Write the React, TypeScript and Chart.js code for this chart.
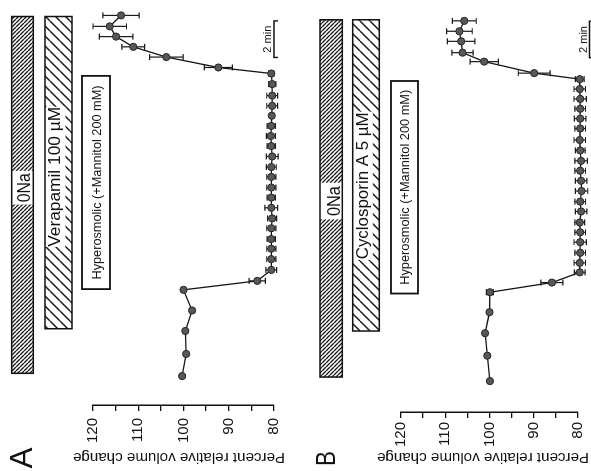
import React, { useEffect, useRef } from 'react';
import { Chart, registerables } from 'chart.js';

Chart.register(...registerables);

const FONT = '"Liberation Sans", Arial, Helvetica, sans-serif';

// ---------- data (time in min, volume in % of initial) ----------
const timeA = [0, 1.21, 2.47, 3.59, 4.72, 5.21, 5.81, 6.40, 6.97, 7.50, 8.09, 8.63, 9.21, 9.77, 10.32, 10.90, 11.44, 12.02, 12.59, 13.14, 13.69, 14.25, 14.79, 15.35, 15.98, 16.56, 16.89, 17.46, 18.02, 18.58, 19.14, 19.74];
const volumeA = [100.3, 99.4, 99.6, 98.1, 100.0, 83.7, 80.6, 80.6, 80.6, 80.6, 80.6, 80.4, 80.6, 80.6, 80.6, 80.6, 80.6, 80.4, 80.6, 80.7, 80.6, 80.5, 80.4, 80.4, 80.4, 80.6, 92.3, 103.8, 111.1, 114.9, 116.3, 113.8];
const errorA = [0, 0, 0, 0, 0, 1.8, 1.2, 1.0, 1.0, 0.9, 1.0, 1.0, 1.4, 0.9, 1.0, 1.0, 1.1, 1.3, 0.9, 1.0, 0.9, 0.4, 1.2, 1.2, 0.8, 0.6, 3.1, 3.7, 2.5, 3.7, 3.7, 4.0];

const timeB = [0, 1.39, 2.62, 3.77, 4.86, 5.39, 5.95, 6.47, 7.02, 7.60, 8.14, 8.68, 9.28, 9.82, 10.40, 10.96, 11.51, 12.05, 12.62, 13.19, 13.82, 14.36, 14.90, 15.44, 15.98, 16.52, 16.85, 17.48, 17.97, 18.59, 19.14, 19.71];
const volumeB = [99.9, 100.5, 101.0, 100.0, 99.9, 85.9, 79.6, 79.6, 79.5, 79.5, 79.5, 79.6, 79.3, 79.5, 79.2, 79.3, 79.5, 79.3, 79.5, 79.6, 79.5, 79.5, 79.5, 79.5, 79.6, 79.6, 89.9, 101.2, 106.1, 106.4, 106.8, 105.7];
const errorB = [0, 0, 0, 0, 0.8, 2.5, 1.2, 1.3, 1.2, 1.4, 1.2, 1.1, 1.3, 1.2, 1.4, 1.3, 1.2, 1.4, 1.1, 1.3, 1.2, 1.3, 1.2, 1.4, 1.3, 1.0, 3.6, 3.2, 2.4, 3.1, 2.9, 2.7];

const yTickLabels = [80, 90, 100, 110, 120];
const axisTitle = 'Percent relative volume change';

// treatment bars (time intervals, min)
const treatLabelsA = ['0Na', 'Verapamil 100 µM', 'Hyperosmolic (+Mannitol 200 mM)'];
const treatStartA = [0.15, 2.59, 4.76];
const treatEndA = [19.68, 19.68, 16.43];
const labelBoxStartA = [9.39, 7.07, 4.76];
const labelBoxEndA = [11.23, 14.74, 16.43];
const scaleBarA = [17.44, 19.44];

const treatLabelsB = ['0Na', 'Cyclosporin A 5 µM', 'Hyperosmolic (+Mannitol 200 mM)'];
const treatStartB = [0.22, 2.74, 4.79];
const treatEndB = [19.77, 19.77, 16.42];
const labelBoxStartB = [8.85, 6.63, 4.79];
const labelBoxEndB = [10.85, 14.74, 16.42];
const scaleBarB = [17.69, 19.69];

type PanelCfg = {
  letter: string;
  time: number[];
  volume: number[];
  error: number[];
  treatLabels: string[];
  treatStart: number[];
  treatEnd: number[];
  boxStart: number[];
  boxEnd: number[];
  scaleBar: number[];
  height: number;
  top: number;
  bottom: number;
  axisX: number;
  tickPad: number;
  tMin: number;
  tMax: number;
  rows: number[][];
  labelW: number[];
  labelBase: number[];
  labelSize: number[];
  letterX: number;
  letterBase: number;
  letterSize: number;
  letterW: number;
  titleCY: number;
  scaleY: number;
  scaleTextBase: number;
};

const panelA: PanelCfg = {
  letter: 'A', time: timeA, volume: volumeA, error: errorA,
  treatLabels: treatLabelsA, treatStart: treatStartA, treatEnd: treatEndA,
  boxStart: labelBoxStartA, boxEnd: labelBoxEndA, scaleBar: scaleBarA,
  height: 290, top: 93, bottom: 275, axisX: 66, tickPad: 7, tMin: -1.584, tMax: 20.31,
  rows: [[11.7, 33.3], [45, 72], [82, 110]],
  labelW: [29, 140, 194], labelBase: [30, 59.5, 100.5], labelSize: [18, 17, 12.5],
  letterX: 13, letterBase: 32, letterSize: 32, letterW: 21,
  titleCY: 179, scaleY: 274, scaleTextBase: 271,
};

const panelB: PanelCfg = {
  letter: 'B', time: timeB, volume: volumeB, error: errorB,
  treatLabels: treatLabelsB, treatStart: treatStartB, treatEnd: treatEndB,
  boxStart: labelBoxStartB, boxEnd: labelBoxEndB, scaleBar: scaleBarB,
  height: 301, top: 111, bottom: 288, axisX: 59, tickPad: 4, tMin: -1.692, tMax: 20.578,
  rows: [[30, 52.3], [62.7, 89.3], [101, 128]],
  labelW: [30, 147, 195], labelBase: [49.5, 78, 119], labelSize: [18, 17, 12.5],
  letterX: 12.5, letterBase: 45, letterSize: 28, letterW: 15,
  titleCY: 193, scaleY: 299.5, scaleTextBase: 297,
};

function fitText(ctx: CanvasRenderingContext2D, text: string, cx: number, base: number, size: number, targetW: number) {
  ctx.save();
  ctx.font = `${size}px ${FONT}`;
  const w = ctx.measureText(text).width || 1;
  ctx.translate(cx, base);
  ctx.scale(targetW / w, 1);
  ctx.textAlign = 'center';
  ctx.textBaseline = 'alphabetic';
  ctx.fillStyle = '#111';
  ctx.fillText(text, 0, 0);
  ctx.restore();
}

function makeHatch(ctx: CanvasRenderingContext2D, size: number, lw: number, back: boolean) {
  const c = document.createElement('canvas');
  c.width = size;
  c.height = size;
  const g = c.getContext('2d')!;
  g.fillStyle = '#fff';
  g.fillRect(0, 0, size, size);
  g.strokeStyle = '#1a1a1a';
  g.lineWidth = lw;
  g.beginPath();
  for (let k = -1; k <= 1; k++) {
    if (back) {
      g.moveTo(k * size, 0);
      g.lineTo(k * size + size, size);
    } else {
      g.moveTo(k * size, size);
      g.lineTo(k * size + size, 0);
    }
  }
  g.stroke();
  return ctx.createPattern(c, 'repeat')!;
}

function Panel({ cfg }: { cfg: PanelCfg }) {
  const ref = useRef<HTMLCanvasElement>(null);
  useEffect(() => {
    const canvas = ref.current!;
    const decor = {
      id: 'decor' + cfg.letter,
      beforeDatasetsDraw(chart: any) {
        const ctx: CanvasRenderingContext2D = chart.ctx;
        const xs = chart.scales.x;
        const ys = chart.scales.y;
        ctx.save();
        ctx.strokeStyle = '#1a1a1a';
        ctx.lineWidth = 1.2;
        cfg.time.forEach((t, i) => {
          const e = cfg.error[i];
          if (!e) return;
          const x = xs.getPixelForValue(t);
          const y1 = ys.getPixelForValue(cfg.volume[i] - e);
          const y2 = ys.getPixelForValue(cfg.volume[i] + e);
          ctx.beginPath();
          ctx.moveTo(x, y1);
          ctx.lineTo(x, y2);
          ctx.moveTo(x - 3, y1);
          ctx.lineTo(x + 3, y1);
          ctx.moveTo(x - 3, y2);
          ctx.lineTo(x + 3, y2);
          ctx.stroke();
        });
        ctx.restore();
      },
      afterDraw(chart: any) {
        const ctx: CanvasRenderingContext2D = chart.ctx;
        const xs = chart.scales.x;
        const dense = makeHatch(ctx, 4, 1.3, true);
        const sparse = makeHatch(ctx, 10, 1.5, false);
        ctx.save();
        cfg.treatLabels.forEach((label, i) => {
          const x1 = xs.getPixelForValue(cfg.treatStart[i]);
          const x2 = xs.getPixelForValue(cfg.treatEnd[i]);
          const [r1, r2] = cfg.rows[i];
          const b1 = xs.getPixelForValue(cfg.boxStart[i]);
          const b2 = xs.getPixelForValue(cfg.boxEnd[i]);
          if (i < 2) {
            ctx.fillStyle = i === 0 ? dense : sparse;
            ctx.fillRect(x1, r1, x2 - x1, r2 - r1);
            ctx.fillStyle = '#fff';
            const bottom = i === 0 ? r2 : r2 - 6.5;
            ctx.fillRect(b1, r1, b2 - b1, bottom - r1);
          } else {
            ctx.fillStyle = '#fff';
            ctx.fillRect(x1, r1, x2 - x1, r2 - r1);
          }
          ctx.strokeStyle = '#111';
          ctx.lineWidth = i === 2 ? 1.8 : 1.5;
          ctx.strokeRect(x1, r1, x2 - x1, r2 - r1);
          fitText(ctx, label, (b1 + b2) / 2, cfg.labelBase[i], cfg.labelSize[i], cfg.labelW[i]);
        });
        const s1 = xs.getPixelForValue(cfg.scaleBar[0]);
        const s2 = xs.getPixelForValue(cfg.scaleBar[1]);
        ctx.strokeStyle = '#111';
        ctx.lineWidth = 1.4;
        ctx.beginPath();
        ctx.moveTo(s1, cfg.scaleY + 4);
        ctx.lineTo(s1, cfg.scaleY);
        ctx.lineTo(s2, cfg.scaleY);
        ctx.lineTo(s2, cfg.scaleY + 4);
        ctx.stroke();
        fitText(ctx, '2 min', (s1 + s2) / 2, cfg.scaleTextBase, 11.5, 27);
        ctx.save();
        ctx.translate(13, cfg.titleCY);
        ctx.rotate(-Math.PI / 2);
        fitText(ctx, axisTitle, 0, 5, 15, 212);
        ctx.restore();
        fitText(ctx, cfg.letter, cfg.letterX, cfg.letterBase, cfg.letterSize, cfg.letterW);
        ctx.restore();
      },
    };
    const chart = new Chart(canvas, {
      type: 'line',
      data: {
        datasets: [
          {
            data: cfg.time.map((t, i) => ({ x: t, y: cfg.volume[i] })),
            borderColor: '#151515',
            borderWidth: 1.3,
            pointRadius: 3.6,
            pointBackgroundColor: '#585858',
            pointBorderColor: '#262626',
            pointBorderWidth: 1,
            tension: 0,
            fill: false,
            clip: false as any,
          },
        ],
      },
      options: {
        responsive: false,
        animation: false,
        devicePixelRatio: 1,
        layout: { padding: { top: cfg.top, bottom: cfg.height - cfg.bottom, left: 0, right: 0 } },
        plugins: { legend: { display: false }, tooltip: { enabled: false } },
        scales: {
          x: { type: 'linear', display: false, min: cfg.tMin, max: cfg.tMax },
          y: {
            type: 'linear',
            min: 80,
            max: 120,
            afterFit: (s: any) => {
              s.width = cfg.axisX;
            },
            ticks: {
              stepSize: 5,
              autoSkip: false,
              maxRotation: 0,
              padding: cfg.tickPad,
              color: '#111',
              font: { family: FONT, size: 15 },
              callback: (v: any) => (yTickLabels.includes(Number(v)) ? String(v) : ''),
            },
            grid: { drawOnChartArea: false, drawTicks: true, tickLength: 6, color: '#111', lineWidth: 1.3 },
            border: { display: true, color: '#111', width: 1.5 },
          },
        },
      } as any,
      plugins: [decor],
    });
    return () => chart.destroy();
  }, [cfg]);
  return <canvas ref={ref} width={471} height={cfg.height} style={{ display: 'block', width: 471, height: cfg.height }} />;
}

export default function App() {
  return (
    <div style={{ position: 'absolute', left: 0, top: 0, width: 591, height: 471, overflow: 'hidden', background: '#fff' }}>
      <div
        style={{
          position: 'absolute',
          left: 0,
          top: 0,
          width: 471,
          height: 591,
          transformOrigin: '0 0',
          transform: 'translate(0px, 471px) rotate(-90deg)',
        }}
      >
        <Panel cfg={panelA} />
        <Panel cfg={panelB} />
      </div>
    </div>
  );
}
